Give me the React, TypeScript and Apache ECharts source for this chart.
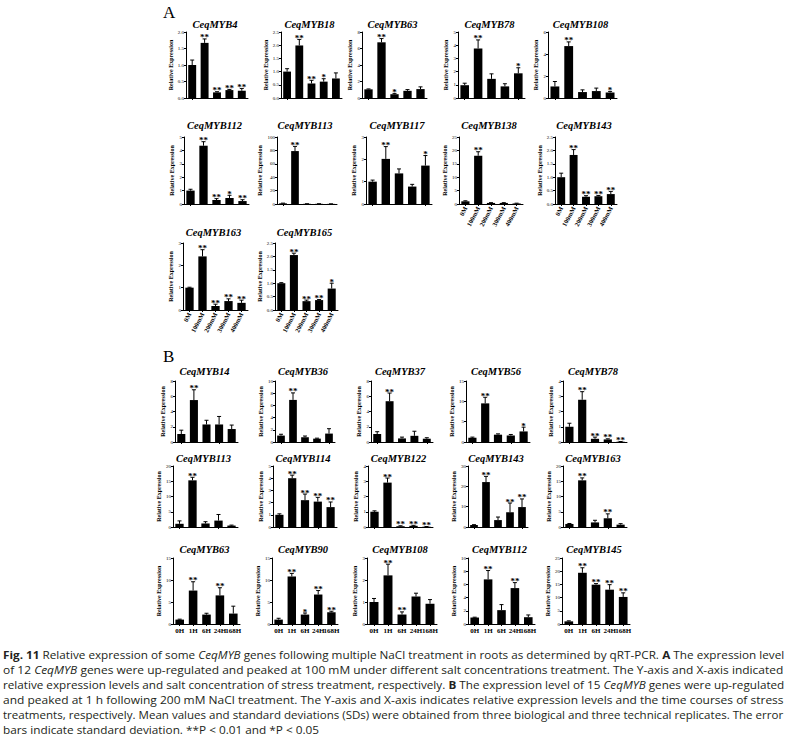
import React, { useEffect, useRef } from 'react';
import * as echarts from 'echarts';

const SERIF = '"Liberation Serif", "Times New Roman", serif';
const SANS = '"Open Sans", "Noto Sans", sans-serif';

// ---------- DATA ----------
const catsA = ['0M', '100mM', '200mM', '300mM', '400mM'];
const catsB = ['0H', '1H', '6H', '24H', '168H'];

const genesA = ['CeqMYB4', 'CeqMYB18', 'CeqMYB63', 'CeqMYB78', 'CeqMYB108', 'CeqMYB112', 'CeqMYB113', 'CeqMYB117', 'CeqMYB138', 'CeqMYB143', 'CeqMYB163', 'CeqMYB165'];
const meanA = [
  [1.0, 1.67, 0.17, 0.24, 0.22],
  [1.0, 1.99, 0.55, 0.62, 0.74],
  [1.05, 6.75, 0.46, 0.87, 1.08],
  [0.97, 3.75, 1.45, 0.88, 1.87],
  [1.05, 4.72, 0.54, 0.63, 0.5],
  [1.0, 4.35, 0.3, 0.45, 0.22],
  [1.0, 79, 0.3, 0.3, 0.2],
  [1.0, 2.02, 1.37, 0.78, 1.72],
  [1.0, 18, 0.4, 0.4, 0.2],
  [1.0, 1.83, 0.27, 0.29, 0.37],
  [1.0, 2.4, 0.18, 0.4, 0.32],
  [1.0, 2.05, 0.33, 0.37, 0.8],
];
const errA = [
  [0.15, 0.12, 0.02, 0.02, 0.07],
  [0.11, 0.23, 0.12, 0.11, 0.21],
  [0.05, 0.45, 0.1, 0.15, 0.27],
  [0.15, 0.65, 0.38, 0.2, 0.42],
  [0.45, 0.38, 0.2, 0.27, 0.1],
  [0.1, 0.3, 0.1, 0.2, 0.1],
  [0.3, 7, 0.1, 0.1, 0.1],
  [0.07, 0.55, 0.2, 0.1, 0.45],
  [0.2, 1.5, 0.1, 0.1, 0.1],
  [0.15, 0.2, 0.04, 0.03, 0.1],
  [0.02, 0.3, 0.08, 0.1, 0.12],
  [0.02, 0.07, 0.04, 0.02, 0.2],
];
const sigA = [
  ['', '**', '**', '**', '**'],
  ['', '**', '**', '*', ''],
  ['', '**', '*', '', ''],
  ['', '**', '', '', '*'],
  ['', '**', '', '', '*'],
  ['', '**', '**', '*', '**'],
  ['', '**', '', '', ''],
  ['', '**', '', '', '*'],
  ['', '**', '', '', ''],
  ['', '**', '**', '**', '**'],
  ['', '**', '**', '**', '**'],
  ['', '**', '**', '**', '*'],
];
const yMaxA = [2.0, 2.5, 8, 5, 6, 5, 100, 3, 25, 2.5, 3, 2.5];
const yStepA = [0.5, 0.5, 2, 1, 2, 1, 20, 1, 5, 0.5, 1, 0.5];

const genesB = ['CeqMYB14', 'CeqMYB36', 'CeqMYB37', 'CeqMYB56', 'CeqMYB78', 'CeqMYB113', 'CeqMYB114', 'CeqMYB122', 'CeqMYB143', 'CeqMYB163', 'CeqMYB63', 'CeqMYB90', 'CeqMYB108', 'CeqMYB112', 'CeqMYB145'];
const meanB = [
  [1.05, 5.5, 2.3, 2.3, 1.7],
  [1.05, 6.9, 0.78, 0.55, 1.38],
  [1.05, 5.35, 0.47, 0.81, 0.43],
  [1.05, 9.5, 1.8, 1.6, 2.6],
  [1.0, 2.77, 0.21, 0.17, 0.02],
  [1.05, 15.3, 1.16, 2.1, 0.47],
  [1.0, 4.0, 2.2, 2.08, 1.63],
  [1.0, 2.91, 0.05, 0.08, 0.02],
  [0.98, 22.1, 3.4, 7.2, 9.8],
  [1.0, 15.3, 1.5, 2.86, 0.77],
  [1.0, 7.6, 2.14, 6.5, 2.37],
  [1.0, 10.8, 2.14, 6.7, 2.67],
  [1.0, 2.21, 0.43, 1.25, 0.92],
  [0.98, 6.76, 2.1, 5.44, 1.03],
  [1.0, 19.4, 14.9, 13.0, 10.25],
];
const errB = [
  [0.5, 1.35, 0.55, 1.05, 0.52],
  [0.22, 1.15, 0.2, 0.08, 0.8],
  [0.3, 1.07, 0.17, 0.6, 0.13],
  [0.15, 1.5, 0.2, 0.25, 1.05],
  [0.23, 0.53, 0.11, 0.04, 0.01],
  [0.95, 1.0, 0.58, 2.0, 0.15],
  [0.08, 0.25, 0.5, 0.35, 0.42],
  [0.06, 0.3, 0.03, 0.03, 0.01],
  [0.17, 2.8, 1.5, 4.6, 4.0],
  [0.15, 0.8, 0.7, 1.45, 0.33],
  [0.1, 2.0, 0.3, 1.74, 1.68],
  [0.3, 0.7, 0.36, 0.9, 0.23],
  [0.16, 0.51, 0.12, 0.15, 0.19],
  [0.05, 1.34, 0.84, 0.83, 0.34],
  [0.2, 1.9, 0.4, 1.9, 1.55],
];
const sigB = [
  ['', '**', '', '', ''],
  ['', '**', '', '', ''],
  ['', '**', '', '', ''],
  ['', '**', '', '', '*'],
  ['', '**', '**', '**', '**'],
  ['', '**', '', '', ''],
  ['', '**', '**', '**', '**'],
  ['', '**', '**', '**', '**'],
  ['', '**', '', '**', '**'],
  ['', '**', '', '**', ''],
  ['', '**', '', '**', ''],
  ['', '**', '*', '**', '**'],
  ['', '**', '**', '', ''],
  ['', '**', '', '**', ''],
  ['', '**', '**', '**', '**'],
];
const yMaxB = [8, 10, 8, 15, 4, 20, 5, 4, 30, 20, 15, 15, 3, 10, 25];
const yStepB = [2, 2, 2, 5, 1, 5, 1, 1, 10, 5, 5, 5, 1, 2, 5];

const yAxisName = 'Relative Expression';

const captionLines: [string, string][][] = [
  [['b', 'Fig. 11'], ['', ' Relative expression of some '], ['i', 'CeqMYB'], ['', ' genes following multiple NaCl treatment in roots as determined by qRT-PCR. '], ['b', 'A'], ['', ' The expression level']],
  [['', 'of 12 '], ['i', 'CeqMYB'], ['', ' genes were up-regulated and peaked at 100 mM under different salt concentrations treatment. The Y-axis and X-axis indicated']],
  [['', 'relative expression levels and salt concentration of stress treatment, respectively. '], ['b', 'B'], ['', ' The expression level of 15 '], ['i', 'CeqMYB'], ['', ' genes were up-regulated']],
  [['', 'and peaked at 1 h following 200 mM NaCl treatment. The Y-axis and X-axis indicates relative expression levels and the time courses of stress']],
  [['', 'treatments, respectively. Mean values and standard deviations (SDs) were obtained from three biological and three technical replicates. The error']],
  [['', 'bars indicate standard deviation. **P < 0.01 and *P < 0.05']],
];

// ---------- LAYOUT ----------
const rowTopA = [32, 137, 243];
const rowBottomA = [98, 204, 310];
const titleYA = [24, 125, 232];
const leftA = [[186, 281, 362, 458, 548], [184, 277, 366, 459, 555], [183, 275]];
const rightA = [[248, 342, 427, 525, 617], [249, 337, 432, 523, 617], [248, 338]];
const labelledA = [8, 9, 10, 11];

const rowTopB = [381, 466, 558];
const rowBottomB = [442, 527, 624];
const titleYB = [371, 458, 549];
const leftB = [[175, 275, 371, 466, 563], [173, 273, 368, 468, 563], [173, 272, 367, 468, 562]];
const rightB = [[238, 335, 433, 530, 627], [238, 337, 433, 528, 627], [240, 338, 437, 535, 630]];

type Spec = {
  gene: string; cats: string[]; mean: number[]; err: number[]; sig: string[];
  max: number; step: number; left: number; right: number; top: number; bottom: number;
  titleY: number; labels: 'none' | 'rot' | 'flat';
};

function fmt(v: number, step: number) {
  return step < 1 ? v.toFixed(1) : String(v);
}

function buildSpecs(): Spec[] {
  const specs: Spec[] = [];
  genesA.forEach((g, i) => {
    const r = i < 5 ? 0 : i < 10 ? 1 : 2;
    const c = i < 5 ? i : i < 10 ? i - 5 : i - 10;
    specs.push({
      gene: g, cats: catsA, mean: meanA[i], err: errA[i], sig: sigA[i],
      max: yMaxA[i], step: yStepA[i], left: leftA[r][c], right: rightA[r][c],
      top: rowTopA[r], bottom: rowBottomA[r], titleY: titleYA[r],
      labels: labelledA.includes(i) ? 'rot' : 'none',
    });
  });
  genesB.forEach((g, i) => {
    const r = Math.floor(i / 5);
    const c = i % 5;
    specs.push({
      gene: g, cats: catsB, mean: meanB[i], err: errB[i], sig: sigB[i],
      max: yMaxB[i], step: yStepB[i], left: leftB[r][c], right: rightB[r][c],
      top: rowTopB[r], bottom: rowBottomB[r], titleY: titleYB[r],
      labels: r === 2 ? 'flat' : 'none',
    });
  });
  return specs;
}

function buildOption() {
  const specs = buildSpecs();
  const grid: any[] = [];
  const xAxis: any[] = [];
  const yAxis: any[] = [];
  const series: any[] = [];
  const graphic: any[] = [];

  specs.forEach((s, i) => {
    grid.push({ left: s.left, top: s.top, width: s.right - s.left, height: s.bottom - s.top });
    let axisLabel: any = { show: false };
    if (s.labels === 'rot') {
      axisLabel = { show: true, interval: 0, rotate: 62, fontSize: 6.5, fontWeight: 'bold', fontFamily: SERIF, color: '#000', margin: 3 };
    } else if (s.labels === 'flat') {
      axisLabel = { show: true, interval: 0, hideOverlap: false, fontSize: 7, fontWeight: 'bold', fontFamily: SERIF, color: '#000', margin: 3 };
    }
    xAxis.push({
      type: 'category', gridIndex: i, data: s.cats,
      axisLine: { show: true, lineStyle: { color: '#000', width: 1 } },
      axisTick: { show: true, alignWithLabel: true, length: 2, lineStyle: { color: '#000', width: 1 } },
      axisLabel, splitLine: { show: false },
    });
    const topLabel = fmt(s.max, s.step);
    const lw = topLabel.split('').reduce((a, ch) => a + (ch === '.' ? 1.3 : 2.6), 0);
    yAxis.push({
      type: 'value', gridIndex: i, min: 0, max: s.max, interval: s.step,
      axisLine: { show: true, lineStyle: { color: '#000', width: 1 } },
      axisTick: { show: true, length: 2, lineStyle: { color: '#000', width: 1 } },
      axisLabel: { fontSize: 5, fontFamily: SERIF, color: '#000', margin: 2, formatter: (v: number) => fmt(v, s.step) },
      splitLine: { show: false },
      name: yAxisName, nameLocation: 'middle', nameRotate: 90, nameGap: 4 + lw + 2,
      nameTextStyle: { fontSize: 6, fontWeight: 'bold', fontFamily: SERIF, color: '#000' },
    });
    series.push({
      type: 'bar', xAxisIndex: i, yAxisIndex: i, data: s.mean, barWidth: '64%',
      itemStyle: { color: '#000' }, silent: true,
    });
    series.push({
      type: 'custom', xAxisIndex: i, yAxisIndex: i, z: 5, silent: true,
      data: s.mean.map((m, j) => [j, m, s.err[j]]),
      renderItem: (params: any, api: any) => {
        const j = api.value(0);
        const m = api.value(1);
        const e = api.value(2);
        const base = api.coord([j, m]);
        const top = api.coord([j, m + e]);
        const children: any[] = [
          { type: 'line', shape: { x1: top[0], y1: base[1], x2: top[0], y2: top[1] }, style: { stroke: '#000', lineWidth: 1 } },
          { type: 'line', shape: { x1: top[0] - 2, y1: top[1], x2: top[0] + 2, y2: top[1] }, style: { stroke: '#000', lineWidth: 1 } },
        ];
        const sg = s.sig[params.dataIndex];
        if (sg) {
          children.push({
            type: 'text', x: top[0], y: top[1] + 3,
            style: { text: sg, textAlign: 'center', textVerticalAlign: 'bottom', fontSize: 9, fontWeight: 'bold', fontFamily: SERIF, fill: '#000' },
          });
        }
        return { type: 'group', children };
      },
    });
    graphic.push({
      type: 'text', x: (s.left + s.right) / 2 - 2, y: s.titleY,
      style: { text: s.gene, textAlign: 'center', textVerticalAlign: 'middle', fontSize: 10.5, fontWeight: 'bold', fontStyle: 'italic', fontFamily: SERIF, fill: '#000' },
    });
  });

  graphic.push({ type: 'text', x: 163, y: 12, style: { text: 'A', textVerticalAlign: 'middle', fontSize: 17, fontFamily: SERIF, fill: '#000' } });
  graphic.push({ type: 'text', x: 163, y: 356, style: { text: 'B', textVerticalAlign: 'middle', fontSize: 17, fontFamily: SERIF, fill: '#000' } });

  // caption
  const CAP_FS = 10.5;
  const canvas = document.createElement('canvas');
  const ctx = canvas.getContext('2d')!;
  const widths = captionLines.map((segs) =>
    segs.reduce((a, [k, t]) => {
      ctx.font = `${k === 'i' ? 'italic ' : ''}${k === 'b' ? 'bold ' : ''}${CAP_FS}px ${SANS}`;
      return a + ctx.measureText(t).width;
    }, 0)
  );
  const target = 781;
  const scales = widths.map((w) => target / w);
  const avgScale = scales.slice(0, 5).reduce((a, b) => a + b, 0) / 5;
  captionLines.forEach((segs, k) => {
    const text = segs.map(([key, t]) => (key ? `{${key}|${t}}` : t)).join('');
    graphic.push({
      type: 'text', x: 3, y: 655 + k * 15, scaleX: k < 5 ? scales[k] : avgScale,
      style: {
        text, fontSize: CAP_FS, fontFamily: SANS, fill: '#231f20', textVerticalAlign: 'middle',
        rich: {
          b: { fontWeight: 'bold', fontSize: CAP_FS, fontFamily: SANS, fill: '#231f20' },
          i: { fontStyle: 'italic', fontSize: CAP_FS, fontFamily: SANS, fill: '#231f20' },
        },
      },
    });
  });

  return {
    animation: false,
    backgroundColor: '#fff',
    grid, xAxis, yAxis, series, graphic,
  };
}

export default function App() {
  const ref = useRef<HTMLDivElement>(null);
  useEffect(() => {
    const el = ref.current!;
    const chart = echarts.init(el, undefined, { renderer: 'svg' });
    chart.setOption(buildOption() as any);
    return () => chart.dispose();
  }, []);
  return <div ref={ref} style={{ position: 'absolute', left: 0, top: 0, width: 788, height: 743, background: '#fff' }} />;
}
